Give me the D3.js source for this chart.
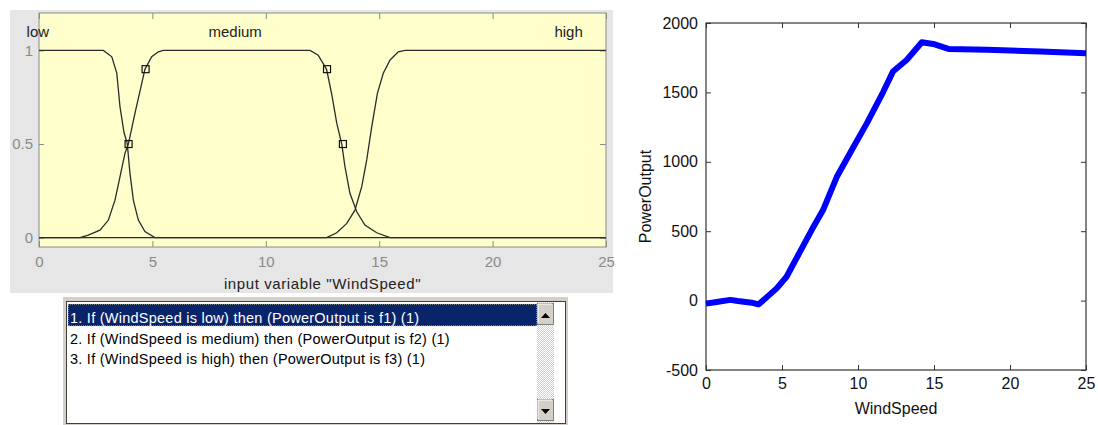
<!DOCTYPE html>
<html>
<head>
    <meta charset="utf-8">
    <script type="text/javascript" src="https://cdn.jsdelivr.net/npm/d3@7"></script>
    <style>
        body { margin: 0; background: #fff; }
        text { font-family: "Liberation Sans", Arial, sans-serif; }
    </style>
</head>
<body>
    <div id="chart"></div>

    <script type="text/javascript">
    // input membership functions
    var mfNames = ["low", "medium", "high"];
    var mfLabelX = [-0.05, 8.65, 23.35];
    var lowX  = [0, 2.84, 3.21, 3.43, 3.57, 3.75, 3.89, 4.01, 4.16, 4.38, 4.67, 5.11, 25];
    var lowMu = [1, 1, 0.966, 0.879, 0.70, 0.56, 0.504, 0.345, 0.20, 0.094, 0.032, 0, 0];
    var medX  = [0, 1.81, 2.17, 2.69, 3.06, 3.35, 3.57, 3.79, 3.94, 4.23, 4.53, 4.67, 4.97, 5.26, 5.48,
                 11.95, 12.31, 12.68, 12.9, 13.13, 13.35, 13.49, 13.71, 14.01, 14.37, 14.89, 15.48, 25];
    var medMu = [0, 0, 0.014, 0.04, 0.094, 0.20, 0.325, 0.45, 0.50, 0.664, 0.824, 0.899, 0.966, 0.993, 1,
                 1, 0.975, 0.899, 0.77, 0.61, 0.50, 0.379, 0.237, 0.138, 0.067, 0.026, 0, 0];
    var highX  = [0, 12.68, 13.13, 13.57, 13.93, 14.23, 14.45, 14.67, 14.92, 15.18, 15.48, 15.84, 16.14, 25];
    var highMu = [0, 0, 0.026, 0.076, 0.147, 0.272, 0.415, 0.592, 0.771, 0.878, 0.949, 0.993, 1, 1];
    var handleX  = [3.95, 4.7, 12.7, 13.4];
    var handleMu = [0.5, 0.9, 0.9, 0.5];
    var windTicks = [0, 5, 10, 15, 20, 25];
    var muTicks = [0, 0.5, 1];

    // rule list
    var rules = [
        "1. If (WindSpeed is low) then (PowerOutput is f1) (1)",
        "2. If (WindSpeed is medium) then (PowerOutput is f2) (1)",
        "3. If (WindSpeed is high) then (PowerOutput is f3) (1)"
    ];

    // output surface
    var windSpeed   = [0, 0.7, 1.6, 2.1, 3.0, 3.45, 3.75, 4.65, 5.3, 6.95, 7.7, 8.6, 9.7, 10.57,
                       11.67, 12.3, 13.2, 14.2, 14.95, 15.95, 18.5, 22, 25];
    var powerOutput = [-22, -10, 5, -3, -15, -27, 0, 88, 172, 508, 652, 890, 1107, 1275,
                       1506, 1650, 1733, 1861, 1849, 1813, 1808, 1794, 1782];
    var powerTicks = [-500, 0, 500, 1000, 1500, 2000];

    var plain = function(d) { return String(d); };

    var svg = d3.select("#chart")
        .append("svg")
        .attr("width", 1098)
        .attr("height", 425);

    // ---------- left: membership function editor ----------
    svg.append("rect")
        .attr("x", 10).attr("y", 10)
        .attr("width", 603).attr("height", 283)
        .attr("fill", "#e6e6e6");

    var xL = d3.scaleLinear().domain([0, 25]).range([39, 606]);
    var yL = d3.scaleLinear().domain([-0.05, 1.2]).range([247, 13]);

    svg.append("rect")
        .attr("x", xL(0)).attr("y", yL(1.2))
        .attr("width", xL(25) - xL(0)).attr("height", yL(-0.05) - yL(1.2))
        .attr("fill", "#ffffcc");

    function styleLeftAxis(g) {
        g.select(".domain").remove();
        g.selectAll(".tick line").attr("stroke", "#8a8a8a");
        g.selectAll(".tick text").attr("fill", "#8a8a8a").style("font-size", "15px");
    }

    svg.append("g")
        .attr("transform", "translate(0," + yL(-0.05) + ")")
        .call(d3.axisBottom(xL).tickValues(windTicks).tickFormat(plain).tickSizeInner(-6).tickSizeOuter(0).tickPadding(9))
        .call(styleLeftAxis);
    svg.append("g")
        .attr("transform", "translate(0," + yL(1.2) + ")")
        .call(d3.axisTop(xL).tickValues(windTicks).tickSizeInner(-6).tickSizeOuter(0).tickFormat(""))
        .call(styleLeftAxis);
    svg.append("g")
        .attr("transform", "translate(" + xL(0) + ",0)")
        .call(d3.axisLeft(yL).tickValues(muTicks).tickFormat(plain).tickSizeInner(-5).tickSizeOuter(0).tickPadding(6))
        .call(styleLeftAxis);
    svg.append("g")
        .attr("transform", "translate(" + xL(25) + ",0)")
        .call(d3.axisRight(yL).tickValues(muTicks).tickSizeInner(-6).tickSizeOuter(0).tickFormat(""))
        .call(styleLeftAxis);

    svg.append("rect")
        .attr("x", xL(0)).attr("y", yL(1.2))
        .attr("width", xL(25) - xL(0)).attr("height", yL(-0.05) - yL(1.2))
        .attr("fill", "none")
        .attr("stroke", "#8a8a8a");

    var mfLine = d3.line()
        .x(function(d) { return xL(d[0]); })
        .y(function(d) { return yL(d[1]); });

    [[lowX, lowMu], [medX, medMu], [highX, highMu]].forEach(function(mf) {
        svg.append("path")
            .datum(d3.zip(mf[0], mf[1]))
            .attr("d", mfLine)
            .attr("fill", "none")
            .attr("stroke", "#2b2b2b")
            .attr("stroke-width", 1.3);
    });

    svg.selectAll("rect.handle")
        .data(d3.zip(handleX, handleMu))
        .enter().append("rect")
        .attr("class", "handle")
        .attr("x", function(d) { return xL(d[0]) - 3.5; })
        .attr("y", function(d) { return yL(d[1]) - 3.5; })
        .attr("width", 7).attr("height", 7)
        .attr("fill", "none")
        .attr("stroke", "#111")
        .attr("stroke-width", 1.2);

    svg.selectAll("text.mfname")
        .data(mfNames)
        .enter().append("text")
        .attr("class", "mfname")
        .attr("x", function(d, i) { return xL(mfLabelX[i]); })
        .attr("y", yL(1.1))
        .attr("dy", "0.35em")
        .attr("text-anchor", "middle")
        .style("font-size", "15px")
        .attr("fill", "#222")
        .text(function(d) { return d; });

    svg.append("text")
        .attr("x", (xL(0) + xL(25)) / 2)
        .attr("y", 284)
        .attr("dy", "0.35em")
        .attr("text-anchor", "middle")
        .style("font-size", "15px")
        .style("letter-spacing", "0.6px")
        .attr("fill", "#222")
        .text("input variable \"WindSpeed\"");

    // ---------- rule list box ----------
    var defs = svg.append("defs");
    var pat = defs.append("pattern")
        .attr("id", "checker")
        .attr("width", 2).attr("height", 2)
        .attr("patternUnits", "userSpaceOnUse");
    pat.append("rect").attr("width", 2).attr("height", 2).attr("fill", "#d4d0c8");
    pat.append("rect").attr("width", 1).attr("height", 1).attr("fill", "#ffffff");
    pat.append("rect").attr("x", 1).attr("y", 1).attr("width", 1).attr("height", 1).attr("fill", "#ffffff");

    svg.append("rect")
        .attr("x", 63).attr("y", 297)
        .attr("width", 505).attr("height", 130)
        .attr("fill", "#d4d0c8");
    svg.append("rect")
        .attr("x", 66.5).attr("y", 301.5)
        .attr("width", 499).attr("height", 122)
        .attr("fill", "#fff")
        .attr("stroke", "#404040");

    var rowY = d3.scaleLinear().domain([0, 1]).range([315, 335.5]);

    svg.append("rect")
        .attr("x", 68).attr("y", rowY(0) - 11)
        .attr("width", 469).attr("height", 22)
        .attr("fill", "#0a246a")
        .attr("stroke", "#d8d8a0")
        .attr("stroke-dasharray", "1,1");

    svg.selectAll("text.rule")
        .data(rules)
        .enter().append("text")
        .attr("class", "rule")
        .attr("x", 70)
        .attr("y", function(d, i) { return rowY(i) + 3; })
        .attr("dy", "0.35em")
        .style("font-size", "14.5px")
        .style("letter-spacing", "0.25px")
        .attr("fill", function(d, i) { return i === 0 ? "#fff" : "#000"; })
        .text(function(d) { return d; });

    // scrollbar
    svg.append("rect")
        .attr("x", 537).attr("y", 302)
        .attr("width", 17).attr("height", 121)
        .attr("fill", "url(#checker)");
    [[537, 303, "M541,318 L550,318 L545.5,313 Z"], [537, 399, "M541,409 L550,409 L545.5,414 Z"]].forEach(function(b) {
        svg.append("rect")
            .attr("x", b[0] + 0.5).attr("y", b[1] + 0.5)
            .attr("width", 16).attr("height", 21)
            .attr("fill", "#d4d0c8")
            .attr("stroke", "#808080");
        svg.append("path")
            .attr("d", "M" + (b[0] + 1) + "," + (b[1] + 20) + " V" + (b[1] + 1) + " H" + (b[0] + 15))
            .attr("fill", "none").attr("stroke", "#fff");
        svg.append("path").attr("d", b[2]).attr("fill", "#000");
    });

    // ---------- right: output surface ----------
    var xR = d3.scaleLinear().domain([0, 25]).range([706, 1086]);
    var yR = d3.scaleLinear().domain([-500, 2000]).range([370, 23]);

    function styleRightAxis(g) {
        g.select(".domain").remove();
        g.selectAll(".tick line").attr("stroke", "#333");
        g.selectAll(".tick text").attr("fill", "#111").style("font-size", "16px");
    }

    svg.append("g")
        .attr("transform", "translate(0," + yR(-500) + ")")
        .call(d3.axisBottom(xR).tickValues(windTicks).tickFormat(plain).tickSizeInner(-5).tickSizeOuter(0).tickPadding(8))
        .call(styleRightAxis);
    svg.append("g")
        .attr("transform", "translate(0," + yR(2000) + ")")
        .call(d3.axisTop(xR).tickValues(windTicks).tickSizeInner(-5).tickSizeOuter(0).tickFormat(""))
        .call(styleRightAxis);
    svg.append("g")
        .attr("transform", "translate(" + xR(0) + ",0)")
        .call(d3.axisLeft(yR).tickValues(powerTicks).tickFormat(plain).tickSizeInner(-5).tickSizeOuter(0).tickPadding(8))
        .call(styleRightAxis);
    svg.append("g")
        .attr("transform", "translate(" + xR(25) + ",0)")
        .call(d3.axisRight(yR).tickValues(powerTicks).tickSizeInner(-5).tickSizeOuter(0).tickFormat(""))
        .call(styleRightAxis);

    svg.append("rect")
        .attr("x", xR(0)).attr("y", yR(2000))
        .attr("width", xR(25) - xR(0)).attr("height", yR(-500) - yR(2000))
        .attr("fill", "none")
        .attr("stroke", "#333")
        .attr("stroke-width", 1.2);

    var powerLine = d3.line()
        .x(function(d) { return xR(d[0]); })
        .y(function(d) { return yR(d[1]); });

    svg.append("path")
        .datum(d3.zip(windSpeed, powerOutput))
        .attr("d", powerLine)
        .attr("fill", "none")
        .attr("stroke", "#0000ff")
        .attr("stroke-width", 6)
        .attr("stroke-linejoin", "round");

    svg.append("text")
        .attr("x", (xR(0) + xR(25)) / 2)
        .attr("y", 408)
        .attr("dy", "0.35em")
        .attr("text-anchor", "middle")
        .style("font-size", "16px")
        .attr("fill", "#111")
        .text("WindSpeed");

    svg.append("text")
        .attr("transform", "translate(645," + (yR(-500) + yR(2000)) / 2 + ") rotate(-90)")
        .attr("dy", "0.35em")
        .attr("text-anchor", "middle")
        .style("font-size", "16px")
        .attr("fill", "#111")
        .text("PowerOutput");
    </script>
</body>
</html>
